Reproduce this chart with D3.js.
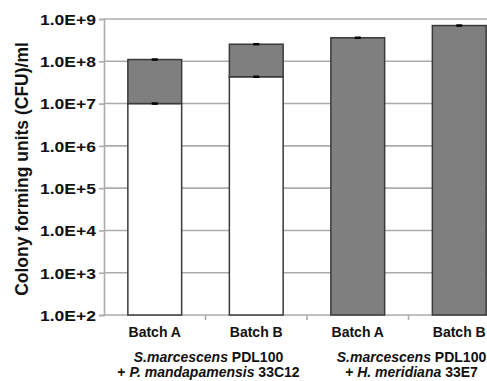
<!DOCTYPE html>
<html>
<head>
<meta charset="utf-8">
<script src="https://cdn.jsdelivr.net/npm/d3@7"></script>
<style>
  body { margin: 0; background: #fff; }
  text { font-family: 'Liberation Sans', Arial, sans-serif; font-weight: bold; fill: #111; }
</style>
</head>
<body>
<svg id="chart" width="487" height="381"></svg>
<script>
// values
var batches = ['Batch A', 'Batch B', 'Batch A', 'Batch B']
var groupA = ['S.marcescens', ' PDL100']
var groupB = [['+ ', false], ['P. mandapamensis', true], [' 33C12', false]]
var groupC = [['+ ', false], ['H. meridiana', true], [' 33E7', false]]
var lowerCounts = [1.0e7, 4.3e7, 0, 0] // white segment
var upperCounts = [1.0e8, 2.1e8, 3.6e8, 7.0e8] // grey segment
var yTicks = [1e2, 1e3, 1e4, 1e5, 1e6, 1e7, 1e8, 1e9]

var svg = d3.select('#chart')
var plotLeft = 104
var plotTop = 19
var plotBottom = 315
var band = 101.5

var x = d3.scaleBand()
  .domain(d3.range(batches.length))
  .range([plotLeft, plotLeft + band * batches.length])
  .paddingInner(0.47)
  .paddingOuter(0.235)

var y = d3.scaleLog().domain([1e2, 1e9]).range([plotBottom, plotTop])

function tickLabel (v) {
  return '1.0E+' + Math.round(Math.log10(v))
}

// gridlines
svg.append('g').selectAll('line')
  .data(yTicks.slice(1))
  .enter().append('line')
  .attr('x1', plotLeft).attr('x2', 487)
  .attr('y1', function (d) { return y(d) }).attr('y2', function (d) { return y(d) })
  .attr('stroke', '#ababab').attr('stroke-width', 1.6)

// y axis
var yAxis = svg.append('g')
  .attr('transform', 'translate(' + plotLeft + ',0)')
  .call(d3.axisLeft(y).tickValues(yTicks).tickFormat(tickLabel).tickSize(5).tickPadding(3))
yAxis.select('.domain').attr('stroke', '#ababab').attr('stroke-width', 1.6)
yAxis.selectAll('.tick line').attr('stroke', '#ababab').attr('stroke-width', 1.6)
yAxis.selectAll('text')
  .style('font-size', '15px').attr('fill', '#111').attr('dy', '0.36em')
  .attr('textLength', 56).attr('lengthAdjust', 'spacingAndGlyphs')

// x axis
svg.append('line')
  .attr('x1', plotLeft).attr('x2', 487).attr('y1', plotBottom).attr('y2', plotBottom)
  .attr('stroke', '#ababab').attr('stroke-width', 1.6)
svg.append('g').selectAll('line')
  .data(d3.range(1, batches.length))
  .enter().append('line')
  .attr('x1', function (i) { return plotLeft + band * i }).attr('x2', function (i) { return plotLeft + band * i })
  .attr('y1', plotBottom).attr('y2', plotBottom + 5)
  .attr('stroke', '#ababab').attr('stroke-width', 1.6)

// bars
var bars = svg.append('g')
batches.forEach(function (b, i) {
  var low = lowerCounts[i]
  var total = low + upperCounts[i]
  var yLow = low > 0 ? y(low) : plotBottom
  if (low > 0) {
    bars.append('rect')
      .attr('x', x(i)).attr('width', x.bandwidth())
      .attr('y', yLow).attr('height', plotBottom - yLow)
      .attr('fill', '#fff').attr('stroke', '#3a3a3a').attr('stroke-width', 1.5)
  }
  bars.append('rect')
    .attr('x', x(i)).attr('width', x.bandwidth())
    .attr('y', y(total)).attr('height', yLow - y(total))
    .attr('fill', '#7f7f7f').attr('stroke', '#3a3a3a').attr('stroke-width', 1.5)

  // error caps
  var cx = x(i) + x.bandwidth() / 2
  var caps = low > 0 ? [low, total] : [total]
  caps.forEach(function (v) {
    bars.append('line')
      .attr('x1', cx - 3).attr('x2', cx + 3)
      .attr('y1', y(v)).attr('y2', y(v))
      .attr('stroke', '#000').attr('stroke-width', 2.5)
  })
})

// category labels
svg.append('g').selectAll('text')
  .data(batches)
  .enter().append('text')
  .attr('x', function (d, i) { return x(i) + x.bandwidth() / 2 })
  .attr('y', 337)
  .attr('text-anchor', 'middle')
  .style('font-size', '14px')
  .text(function (d) { return d })

function groupLine (cx, yy, parts) {
  var t = svg.append('text').attr('x', cx).attr('y', yy)
    .attr('text-anchor', 'middle').style('font-size', '14px')
  parts.forEach(function (p) {
    t.append('tspan').style('font-style', p[1] ? 'italic' : 'normal').text(p[0])
  })
}
var g1 = plotLeft + band * 1 + 3
var g2 = plotLeft + band * 3 + 3
groupLine(g1, 362, [[groupA[0], true], [groupA[1], false]])
groupLine(g1, 377, groupB)
groupLine(g2, 362, [[groupA[0], true], [groupA[1], false]])
groupLine(g2, 377, groupC)

// y title
svg.append('text')
  .attr('transform', 'translate(28,' + 169 + ') rotate(-90)')
  .attr('text-anchor', 'middle')
  .style('font-size', '17.5px')
  .text('Colony forming units (CFU)/ml')
</script>
</body>
</html>
